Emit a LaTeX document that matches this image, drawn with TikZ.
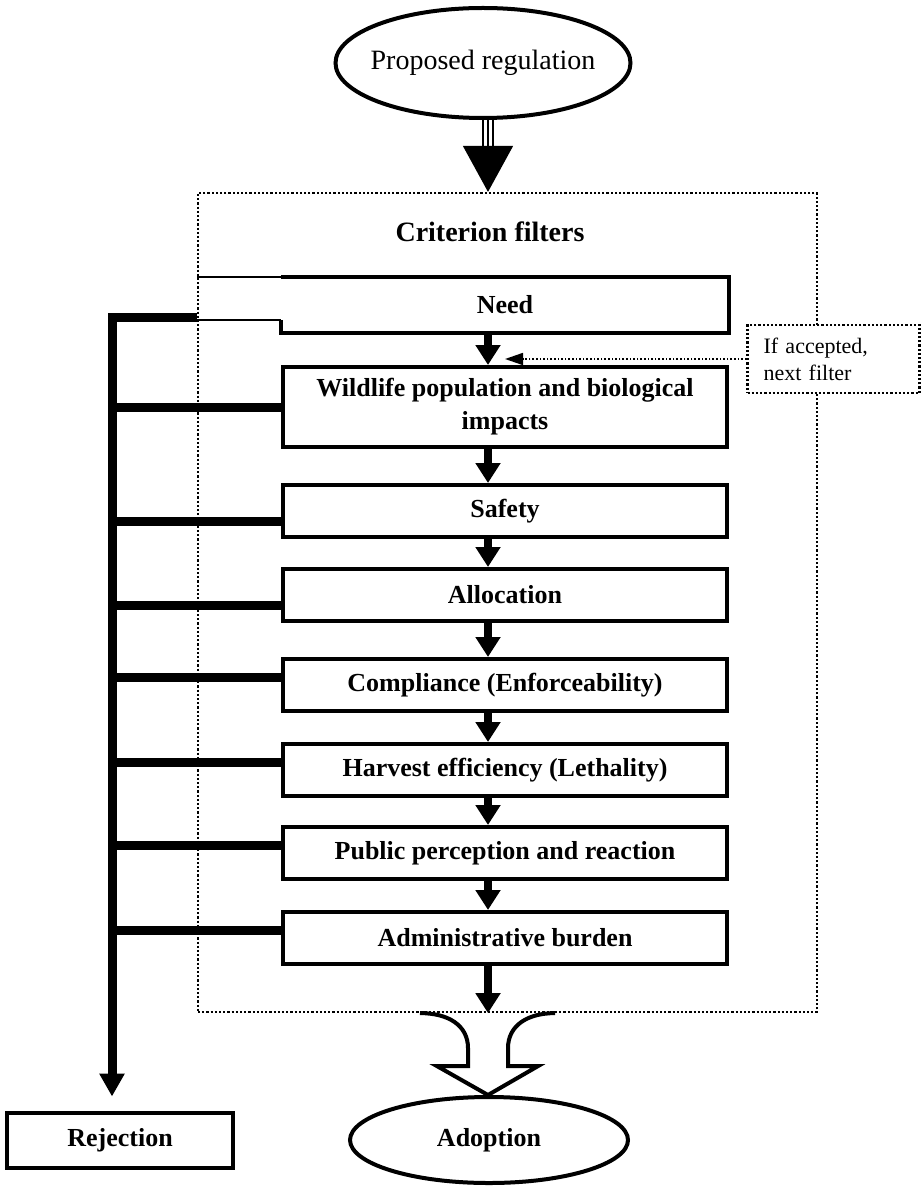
\documentclass[tikz,border=0pt]{standalone}
\usepackage{fontspec}
\setmainfont{Liberation Serif}
\usetikzlibrary{arrows.meta,calc,positioning,shapes.geometric}
\tikzset{
  filter box/.style={draw,line width=2pt,minimum width=222pt,minimum height=26pt,
    inner sep=2pt,align=center,font=\fontsize{13}{16.5}\selectfont\bfseries},
  end oval/.style={ellipse,draw,line width=2pt,inner xsep=-12pt,inner ysep=0pt},
  pass arrow/.style={line width=4pt,-{Triangle[length=10pt,width=12pt]}},
  reject line/.style={line width=4.5pt},
  dot frame/.style={densely dotted,line width=1.1pt}
}

\begin{document}
\begin{tikzpicture}[x=0.5pt,y=-0.5pt,line join=miter]
  \useasboundingbox (0,0) rectangle (924,1187);
  \coordinate (spine) at (488,0);
  \coordinate (rail) at (112,0);
  \coordinate (accpt) at (505,359);

  % frame of the criterion filters
  \node[dot frame,draw,minimum width=309.5pt,minimum height=409.5pt] (frame) at (507.5,602.5) {};
  \node[font=\fontsize{14}{16}\selectfont\bfseries] (crit) at (490,232) {Criterion filters};

  \node[end oval,minimum width=147.5pt,minimum height=55pt,font=\fontsize{14}{16}\selectfont]
    (prop) at (483,63) {Proposed regulation};

  \node[filter box,draw=none] (need) at (505,305) {Need};
  \node[filter box,minimum height=40pt] (wild) at (505,407)
    {Wildlife population and biological\\impacts};
  \node[filter box] (safe)  at (505,511) {Safety};
  \node[filter box] (alloc) at (505,595) {Allocation};
  \node[filter box] (comp)  at (505,685) {Compliance (Enforceability)};
  \node[filter box] (harv)  at (505,770) {Harvest efficiency (Lethality)};
  \node[filter box] (pub)   at (505,853) {Public perception and reaction};
  \node[filter box] (admin) at (505,938) {Administrative burden};

  \node[dot frame,draw,fill=white,text width=70pt,inner xsep=8pt,minimum height=34pt,
    align=left,font=\fontsize{11}{13.5}\selectfont] (ifacc) at (833.5,359)
    {If accepted,\\next filter};

  \node[end oval,minimum width=139pt,minimum height=43pt,font=\fontsize{13}{16}\selectfont\bfseries]
    (adopt) at (489,1140) {Adoption};
  \node[draw,line width=2pt,minimum width=113pt,minimum height=27.5pt,
    font=\fontsize{13}{16}\selectfont\bfseries] (rej) at (120,1140) {Rejection};

  % need box, open on its upper left
  \coordinate (needj) at ($(need.south west)+(0,-13)$);
  \draw[line width=2pt] (needj) -- (need.south west) -- (need.south east)
    -- (need.north east) -- (need.north west);
  \draw[line width=0.6pt] (need.north west) -- (need.north west -| frame.west);
  \draw[line width=0.6pt] (needj) -- (needj -| frame.west);

  % entry arrow
  \draw[line width=0.7pt,-{Triangle[length=23pt,width=25pt]}] (spine |- prop.south) -- (spine |- frame.north);
  \foreach \dx in {-5,5}
    \draw[line width=0.7pt] ($(spine |- prop.south)+(\dx,0)$) -- ++(0,29);

  % accepted: next filter
  \foreach \a/\b in {need/wild,wild/safe,safe/alloc,alloc/comp,comp/harv,harv/pub,pub/admin}
    \draw[pass arrow] (spine |- \a.south) -- (spine |- \b.north);
  \draw[pass arrow] (spine |- admin.south) -- (spine |- frame.south);
  \draw[dot frame,line width=0.8pt,-{Triangle[length=9pt,width=6pt]}] (ifacc.west) -- (accpt);

  % rejected
  \draw[reject line,-{Triangle[length=11.5pt,width=12pt]},shorten >=7pt]
    ([yshift=1pt]needj -| frame.west) -- ([yshift=1pt]needj -| rail) -- (rail |- rej.north);
  \foreach \b/\s in {wild/0pt,safe/-5pt,alloc/-5pt,comp/4pt,harv/4pt,pub/4pt,admin/4pt}
    \draw[reject line] ([yshift=\s]\b.west) -- ([yshift=\s]\b.west -| rail);

  % adoption
  \coordinate (fo) at (spine |- frame.south);
  \draw[line width=2pt]
    ($(fo)+(-68,0)$) .. controls ($(fo)+(-40,0)$) and ($(fo)+(-20,12)$) .. ($(fo)+(-20,35)$)
    -- ($(fo)+(-20,53)$) -- ($(fo)+(-51,53)$) -- (spine |- adopt.north)
    -- ($(fo)+(50,53)$) -- ($(fo)+(20,53)$) -- ($(fo)+(20,35)$)
    .. controls ($(fo)+(20,12)$) and ($(fo)+(40,0)$) .. ($(fo)+(67,0)$);
\end{tikzpicture}
\end{document}
